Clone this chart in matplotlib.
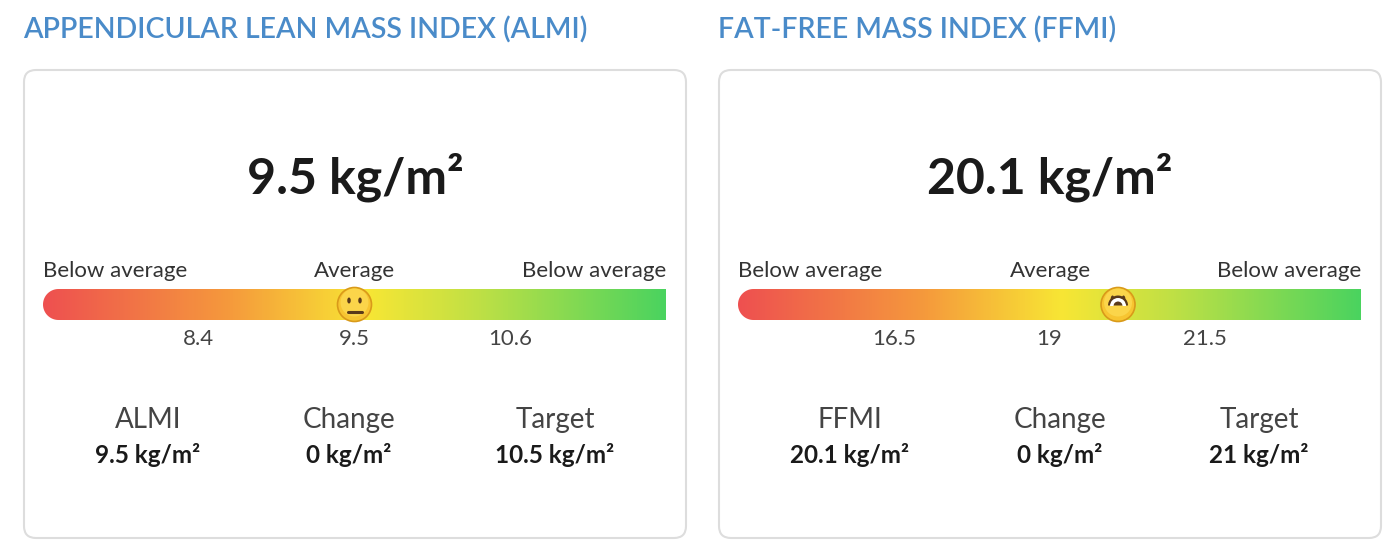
import numpy as np
import matplotlib
matplotlib.use("Agg")
import matplotlib.pyplot as plt
from matplotlib.patches import FancyBboxPatch, Circle, Ellipse, Wedge
from matplotlib.path import Path
from matplotlib.colors import LinearSegmentedColormap

plt.rcParams['font.family'] = ['Lato', 'DejaVu Sans']

titles = ["APPENDICULAR LEAN MASS INDEX (ALMI)", "FAT-FREE MASS INDEX (FFMI)"]
main_values = ["9.5 kg/m²", "20.1 kg/m²"]
values = [9.5, 20.1]
ranges = [(7.3, 11.7), (14.0, 24.0)]
ticks = [[8.4, 9.5, 10.6], [16.5, 19.0, 21.5]]
tick_labels = [["8.4", "9.5", "10.6"], ["16.5", "19", "21.5"]]
zone_labels = ["Below average", "Average", "Below average"]
stat_names = [["ALMI", "Change", "Target"], ["FFMI", "Change", "Target"]]
stat_values = [["9.5 kg/m²", "0 kg/m²", "10.5 kg/m²"], ["20.1 kg/m²", "0 kg/m²", "21 kg/m²"]]
faces = ["neutral", "grin"]

W, H = 1400, 553
fig = plt.figure(figsize=(W/100, H/100), dpi=100)
ax = fig.add_axes([0, 0, 1, 1])
ax.set_xlim(0, W); ax.set_ylim(H, 0); ax.axis('off')

cmap = LinearSegmentedColormap.from_list("g", [(0, "#ee5050"), (0.3, "#f59a3c"), (0.52, "#f8e634"),
                                              (0.7, "#bfe045"), (1, "#4ad35f")])
title_c = "#4a8bc9"
panel_x = [24, 719]
pw = 662
stat_offsets = [[124, 325, 531], [131, 341, 540]]
gaxes = []
for i in range(2):
    x0 = panel_x[i]
    ax.text(x0 - 1, 30, titles[i], color=title_c, fontsize=20.5, fontweight='semibold', va='center', ha='left')
    ax.add_patch(FancyBboxPatch((x0, 70), pw, 468, boxstyle="round,pad=0,rounding_size=12",
                                fc='white', ec='#dddddd', lw=1.5))
    cx = x0 + pw/2
    ax.text(cx, 177, main_values[i], fontsize=36, fontweight='bold', ha='center', va='center', color='#1a1a1a')
    bl, br = x0 + 19, x0 + 642
    ax.text(bl, 271, zone_labels[0], fontsize=16, ha='left', va='center', color='#333')
    ax.text(cx, 271, zone_labels[1], fontsize=16, ha='center', va='center', color='#333')
    ax.text(br, 271, zone_labels[2], fontsize=16, ha='right', va='center', color='#333')
    gax = fig.add_axes([bl/W, 1 - 320/H, (br-bl)/W, 31/H])
    lo, hi = ranges[i]
    gax.set_xlim(lo, hi); gax.set_ylim(0, 1); gax.axis('off')
    grad = np.linspace(0, 1, 512).reshape(1, -1)
    im = gax.imshow(grad, cmap=cmap, extent=[lo, hi, 0, 1], aspect='auto')
    rx = 15.5 / (br - bl) * (hi - lo)
    th = np.linspace(np.pi/2, 3*np.pi/2, 40)
    verts = list(zip(lo + rx + rx*np.cos(th), 0.5 + 0.5*np.sin(th))) + [(hi, 0), (hi, 1), (lo + rx, 1)]
    clip = Path(verts + [verts[0]], [Path.MOVETO] + [Path.LINETO]*(len(verts)-1) + [Path.CLOSEPOLY])
    im.set_clip_path(clip, gax.transData)
    gaxes.append(gax)
    for t, lab in zip(ticks[i], tick_labels[i]):
        px, _ = ax.transData.inverted().transform(gax.transData.transform((t, 0.5)))
        ax.text(px, 339, lab, fontsize=16, ha='center', va='center', color='#444')
    for off, n, v in zip(stat_offsets[i], stat_names[i], stat_values[i]):
        ax.text(x0 + off, 420, n, fontsize=20, ha='center', va='center', color='#444')
        ax.text(x0 + off, 455, v, fontsize=17.5, fontweight='bold', ha='center', va='center', color='#1a1a1a')

# overlay axes for the face markers
ov = fig.add_axes([0, 0, 1, 1])
ov.set_xlim(0, W); ov.set_ylim(H, 0); ov.axis('off')
for i in range(2):
    fx, fy = ov.transData.inverted().transform(gaxes[i].transData.transform((values[i], 0.5)))
    r = 17
    ov.add_patch(Circle((fx, fy), r, fc='#f7c531', ec='#d99a1a', lw=1.2, zorder=5))
    ov.add_patch(Circle((fx, fy - 2), r - 3, fc='#fbd54a', ec='none', zorder=5))
    if faces[i] == "neutral":
        for dx in (-5.5, 5.5):
            ov.add_patch(Ellipse((fx + dx, fy - 4), 3.5, 6, fc='#5a3a1a', zorder=6))
        ov.plot([fx - 7, fx + 7], [fy + 7, fy + 7], color='#5a3a1a', lw=2.2, zorder=6, solid_capstyle='round')
    else:
        for dx in (-5.5, 5.5):
            ov.add_patch(Ellipse((fx + dx, fy - 6), 3.5, 6, fc='#5a3a1a', zorder=6))
        ov.add_patch(Wedge((fx, fy + 1), 10, 180, 360, fc='#5a3a1a', zorder=6))
        ov.add_patch(Wedge((fx, fy + 1.5), 8, 180, 360, width=3.5, fc='white', zorder=7))

fig.savefig("out.png", dpi=100)
